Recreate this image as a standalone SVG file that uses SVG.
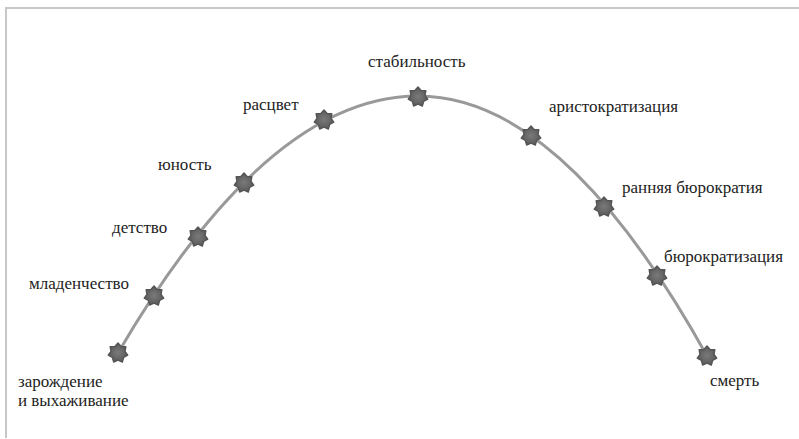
<svg xmlns="http://www.w3.org/2000/svg" width="799" height="439" viewBox="0 0 799 439">
<defs>
<radialGradient id="sg"><stop offset="0" stop-color="#7a7a7a"/><stop offset="1" stop-color="#5a5a5a"/></radialGradient>
<path id="st" d="M0,-10 L3.12,-6.49 L7.82,-6.23 L7.02,-1.6 L9.75,2.23 L5.63,4.49 L4.34,9.01 L0,7.2 L-4.34,9.01 L-5.63,4.49 L-9.75,2.23 L-7.02,-1.6 L-7.82,-6.23 L-3.12,-6.49 Z" fill="url(#sg)" stroke="#555" stroke-width="1.4" stroke-linejoin="round"/>
</defs>
<rect width="799" height="439" fill="#fff"/>
<path d="M6,438 L6,8 L799,8" fill="none" stroke="#c8c8c8" stroke-width="2"/>
<g id="connectors">
<path d="M118,353 Q268,96 418,96 Q562.5,96 707,356" fill="none" stroke="#999" stroke-width="3"/>
</g>
<g id="n1"><use href="#st" x="118" y="353"/><text x="18" y="387" font-size="17" font-family="Liberation Serif" fill="#222">зарождение</text><text x="18" y="406" font-size="17" font-family="Liberation Serif" fill="#222">и выхаживание</text></g>
<g id="n2"><use href="#st" x="154" y="296"/><text x="29" y="289" font-size="17" font-family="Liberation Serif" fill="#222">младенчество</text></g>
<g id="n3"><use href="#st" x="198" y="237"/><text x="112" y="233" font-size="17" font-family="Liberation Serif" fill="#222">детство</text></g>
<g id="n4"><use href="#st" x="244" y="183"/><text x="158" y="170" font-size="17" font-family="Liberation Serif" fill="#222">юность</text></g>
<g id="n5"><use href="#st" x="324" y="120"/><text x="243" y="110" font-size="17" font-family="Liberation Serif" fill="#222">расцвет</text></g>
<g id="n6"><use href="#st" x="418" y="97"/><text x="368" y="67" font-size="17" font-family="Liberation Serif" fill="#222">стабильность</text></g>
<g id="n7"><use href="#st" x="531" y="136"/><text x="549" y="112" font-size="17" font-family="Liberation Serif" fill="#222">аристократизация</text></g>
<g id="n8"><use href="#st" x="604" y="207"/><text x="622" y="193" font-size="17" font-family="Liberation Serif" fill="#222">ранняя бюрократия</text></g>
<g id="n9"><use href="#st" x="657" y="276"/><text x="664" y="262" font-size="17" font-family="Liberation Serif" fill="#222">бюрократизация</text></g>
<g id="n10"><use href="#st" x="707" y="356"/><text x="710" y="386" font-size="17" font-family="Liberation Serif" fill="#222">смерть</text></g>
</svg>
